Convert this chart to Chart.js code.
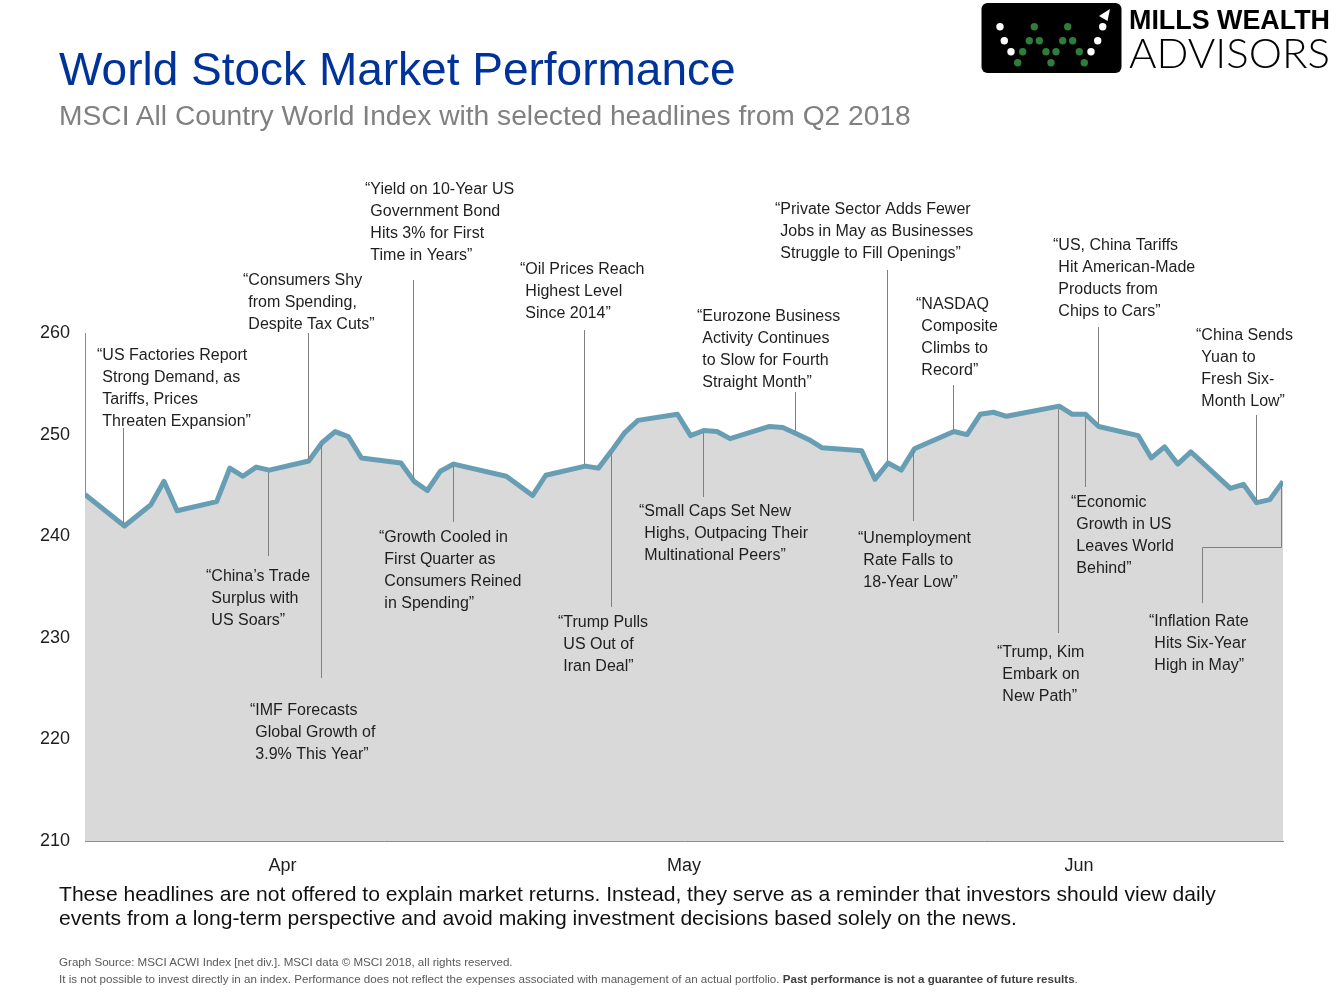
<!DOCTYPE html>
<html>
<head>
<meta charset="utf-8">
<title>World Stock Market Performance</title>
<script src="https://cdn.jsdelivr.net/npm/chart.js@4.4.1/dist/chart.umd.min.js"></script>
<style>
  html, body { margin: 0; padding: 0; background: #fff; }
  body { width: 1344px; height: 998px; position: relative; overflow: hidden; font-family: "Liberation Sans", Arial, sans-serif; }
  #chartWrap { position: absolute; left: 0; top: 0; width: 1344px; height: 998px; }
  .title { position: absolute; left: 59px; top: 46px; font-size: 46px; line-height: 46px; color: #003399; white-space: nowrap; }
  .subtitle { position: absolute; left: 59px; top: 101px; font-size: 28.2px; line-height: 28px; color: #808080; white-space: nowrap; }
  .note { position: absolute; left: 59px; top: 882px; font-size: 21.1px; line-height: 24px; color: #111; white-space: nowrap; }
  .fine { position: absolute; left: 59px; top: 952.5px; font-family: "Liberation Sans Narrow", "Arial Narrow", sans-serif; font-size: 11.6px; line-height: 17px; color: #595959; white-space: nowrap; }
  .fine b { color: #404040; }
  #logo { position: absolute; left: 970px; top: 0; }
</style>
</head>
<body>
<div id="chartWrap"><canvas id="canvasOne" width="1344" height="998"></canvas></div>

<div class="title">World Stock Market Performance</div>
<div class="subtitle">MSCI All Country World Index with selected headlines from Q2 2018</div>
<div class="note">These headlines are not offered to explain market returns. Instead, they serve as a reminder that investors should view daily<br>events from a long-term perspective and avoid making investment decisions based solely on the news.</div>
<div class="fine">Graph Source: MSCI ACWI Index [net div.]. MSCI data © MSCI 2018, all rights reserved.<br>It is not possible to invest directly in an index. Performance does not reflect the expenses associated with management of an actual portfolio. <b>Past performance is not a guarantee of future results</b>.</div>

<svg id="logo" width="374" height="80" viewBox="970 0 374 80">
  <rect x="981.5" y="3" width="140" height="70" rx="6" fill="#000"/>
  <g fill="#fff">
    <circle cx="1000" cy="26.7" r="3.7"/><circle cx="1004.3" cy="40.7" r="3.7"/><circle cx="1011" cy="51.7" r="3.7"/>
    <circle cx="1091" cy="51.7" r="3.7"/><circle cx="1097.7" cy="40.7" r="3.7"/><circle cx="1102.7" cy="26.7" r="3.7"/>
    <polygon points="1099,16 1110,9 1107.5,21"/>
  </g>
  <g fill="#2e7d3a">
    <circle cx="1017.7" cy="62.7" r="3.7"/><circle cx="1022.7" cy="51.7" r="3.7"/><circle cx="1029.3" cy="40.7" r="3.7"/>
    <circle cx="1034.3" cy="26.7" r="3.7"/><circle cx="1039.3" cy="40.7" r="3.7"/><circle cx="1046" cy="51.7" r="3.7"/>
    <circle cx="1051" cy="62.7" r="3.7"/><circle cx="1056" cy="51.7" r="3.7"/><circle cx="1062.7" cy="40.7" r="3.7"/>
    <circle cx="1067.7" cy="26.7" r="3.7"/><circle cx="1072.7" cy="40.7" r="3.7"/><circle cx="1079.3" cy="51.7" r="3.7"/>
    <circle cx="1084.3" cy="62.7" r="3.7"/>
  </g>
  <text x="1129" y="28.5" font-family="Liberation Sans, Arial, sans-serif" font-weight="bold" font-size="28" textLength="201" lengthAdjust="spacingAndGlyphs" fill="#000">MILLS WEALTH</text>
  <text x="1129" y="68" font-family="Lato, Roboto, sans-serif" font-weight="300" font-size="42" textLength="201" lengthAdjust="spacingAndGlyphs" fill="#000">ADVISORS</text>
</svg>

<script>
// MSCI ACWI daily levels, Q2 2018
const dates = [
  "2018-03-30", "2018-04-02", "2018-04-04", "2018-04-05", "2018-04-06",
  "2018-04-09", "2018-04-10", "2018-04-11", "2018-04-12", "2018-04-13",
  "2018-04-16", "2018-04-17", "2018-04-18", "2018-04-19", "2018-04-20",
  "2018-04-23", "2018-04-24", "2018-04-25", "2018-04-26", "2018-04-27",
  "2018-05-01", "2018-05-03", "2018-05-04",
  "2018-05-07", "2018-05-08", "2018-05-09", "2018-05-10", "2018-05-11",
  "2018-05-14", "2018-05-15", "2018-05-16", "2018-05-17", "2018-05-18",
  "2018-05-21", "2018-05-22", "2018-05-23", "2018-05-24", "2018-05-25",
  "2018-05-28", "2018-05-29", "2018-05-30", "2018-05-31", "2018-06-01",
  "2018-06-04", "2018-06-05", "2018-06-06", "2018-06-07", "2018-06-08",
  "2018-06-12", "2018-06-13", "2018-06-14", "2018-06-15",
  "2018-06-18", "2018-06-19", "2018-06-20", "2018-06-21", "2018-06-22",
  "2018-06-25", "2018-06-26", "2018-06-27", "2018-06-28", "2018-06-29"
];
const msciValues = [
  244.1, 241.0, 243.1, 245.4, 242.5,
  243.4, 246.7, 245.9, 246.8, 246.5,
  247.4, 249.2, 250.3, 249.8, 247.7,
  247.2, 245.4, 244.5, 246.4, 247.1,
  245.9, 244.0, 246.0,
  246.9, 246.7, 248.4, 250.2, 251.4,
  252.0, 249.9, 250.4, 250.3, 249.6,
  250.8, 250.7, 250.1, 249.5, 248.7,
  248.4, 245.6, 247.2, 246.5, 248.6,
  250.3, 250.0, 252.0, 252.2, 251.8,
  252.8, 252.0, 252.0, 250.8,
  249.9, 247.7, 248.8, 247.1, 248.3,
  244.7, 245.1, 243.3, 243.6, 245.4
];

// month labels on the x axis
const monthLabels = ["Apr", "May", "Jun"];
const monthTickDays = [15, 45.5, 75.5]; // where the labels sit, days after 30 Mar

// y axis
const yTicks = [210, 220, 230, 240, 250, 260];

// headlines and the day they are attached to
const headlineDates = [
  "2018-04-02", "2018-04-16", "2018-04-13", "2018-04-17", "2018-04-24", "2018-04-27",
  "2018-05-07", "2018-05-09", "2018-05-16", "2018-05-23", "2018-05-30", "2018-06-01",
  "2018-06-04", "2018-06-12", "2018-06-14", "2018-06-15", "2018-06-27", "2018-06-29"
];
const headlineText = [
  ["\u201CUS Factories Report", "Strong Demand, as", "Tariffs, Prices", "Threaten Expansion\u201D"],
  ["\u201CConsumers Shy", "from Spending,", "Despite Tax Cuts\u201D"],
  ["\u201CChina\u2019s Trade", "Surplus with", "US Soars\u201D"],
  ["\u201CIMF Forecasts", "Global Growth of", "3.9% This Year\u201D"],
  ["\u201CYield on 10-Year US", "Government Bond", "Hits 3% for First", "Time in Years\u201D"],
  ["\u201CGrowth Cooled in", "First Quarter as", "Consumers Reined", "in Spending\u201D"],
  ["\u201COil Prices Reach", "Highest Level", "Since 2014\u201D"],
  ["\u201CTrump Pulls", "US Out of", "Iran Deal\u201D"],
  ["\u201CSmall Caps Set New", "Highs, Outpacing Their", "Multinational Peers\u201D"],
  ["\u201CEurozone Business", "Activity Continues", "to Slow for Fourth", "Straight Month\u201D"],
  ["\u201CPrivate Sector Adds Fewer", "Jobs in May as Businesses", "Struggle to Fill Openings\u201D"],
  ["\u201CUnemployment", "Rate Falls to", "18-Year Low\u201D"],
  ["\u201CNASDAQ", "Composite", "Climbs to", "Record\u201D"],
  ["\u201CTrump, Kim", "Embark on", "New Path\u201D"],
  ["\u201CEconomic", "Growth in US", "Leaves World", "Behind\u201D"],
  ["\u201CUS, China Tariffs", "Hit American-Made", "Products from", "Chips to Cars\u201D"],
  ["\u201CChina Sends", "Yuan to", "Fresh Six-", "Month Low\u201D"],
  ["\u201CInflation Rate", "Hits Six-Year", "High in May\u201D"]
];

// where each headline's text block sits on the page (px): left, first line middle, end of leader line
const headlineLayout = [
  { tx: 97, ty: 356, lead: 428 },
  { tx: 243, ty: 281, lead: 333 },
  { tx: 206, ty: 577, lead: 556 },
  { tx: 250, ty: 711, lead: 678 },
  { tx: 365, ty: 190, lead: 280 },
  { tx: 379, ty: 538, lead: 522 },
  { tx: 520, ty: 270, lead: 330 },
  { tx: 558, ty: 623, lead: 607 },
  { tx: 639, ty: 512, lead: 497 },
  { tx: 697, ty: 317, lead: 392 },
  { tx: 775, ty: 210, lead: 270 },
  { tx: 858, ty: 539, lead: 521 },
  { tx: 916, ty: 305, lead: 385 },
  { tx: 997, ty: 653, lead: 633 },
  { tx: 1071, ty: 503, lead: 487 },
  { tx: 1053, ty: 246, lead: 327 },
  { tx: 1196, ty: 336, lead: 415 },
  { tx: 1149, ty: 622, lead: 603, elbowX: 1202, elbowY: 547 }
];

const startDay = Date.UTC(2018, 2, 30);
function dayOf(s) {
  const p = s.split("-").map(Number);
  return (Date.UTC(p[0], p[1] - 1, p[2]) - startDay) / 86400000;
}

const points = dates.map((d, i) => ({ x: dayOf(d), y: msciValues[i] }));

// leader lines + headline text
const headlinePlugin = {
  id: "headlines",
  afterDatasetsDraw(chart) {
    const { ctx } = chart;
    const x = chart.scales.x;
    const y = chart.scales.y;
    ctx.save();
    ctx.font = '16px "Liberation Sans", Arial, sans-serif';
    ctx.textBaseline = "middle";
    ctx.lineWidth = 1;
    ctx.strokeStyle = "#808080";
    const indent = ctx.measureText("\u201C").width;
    headlineText.forEach((lines, i) => {
      const idx = dates.indexOf(headlineDates[i]);
      const lay = headlineLayout[i];
      const px = Math.round(x.getPixelForValue(dayOf(headlineDates[i]))) - 0.5;
      const py = y.getPixelForValue(msciValues[idx]);
      ctx.beginPath();
      if (lay.elbowX) {
        ctx.moveTo(px - 1, py + 2);
        ctx.lineTo(px - 1, lay.elbowY + 0.5);
        ctx.lineTo(lay.elbowX + 0.5, lay.elbowY + 0.5);
        ctx.lineTo(lay.elbowX + 0.5, lay.lead);
      } else if (lay.lead < py) {
        ctx.moveTo(px, lay.lead);
        ctx.lineTo(px, py - 2);
      } else {
        ctx.moveTo(px, py + 2);
        ctx.lineTo(px, lay.lead);
      }
      ctx.stroke();
      ctx.fillStyle = "#1e1e1e";
      lines.forEach((t, j) => {
        ctx.fillText(t, lay.tx + (j ? indent : 0), lay.ty + j * 22);
      });
    });
    ctx.restore();
  }
};

const canvas = document.getElementById("canvasOne");

new Chart(canvas, {
  type: "line",
  data: {
    datasets: [
      {
        label: "MSCI ACWI",
        data: points,
        borderColor: "#689eb4",
        borderWidth: 5,
        borderJoinStyle: "round",
        backgroundColor: "#d9d9d9",
        fill: "start",
        pointRadius: 0,
        tension: 0,
      },
    ],
  },
  options: {
    responsive: false,
    animation: false,
    layout: { padding: { top: 333, right: 61, bottom: 112, left: 0 } },
    plugins: {
      legend: { display: false },
      tooltip: { enabled: false },
    },
    scales: {
      x: {
        type: "linear",
        min: 0,
        max: 91,
        grid: { display: false },
        border: { display: true, color: "#8c8c8c", width: 1 },
        afterBuildTicks: (scale) => {
          scale.ticks = monthTickDays.map((v) => ({ value: v }));
        },
        afterFit: (scale) => { scale.height = 45; },
        ticks: {
          autoSkip: false,
          maxRotation: 0,
          padding: 6,
          color: "#1e1e1e",
          font: { family: '"Liberation Sans", Arial, sans-serif', size: 18 },
          callback: (v, i) => monthLabels[i],
        },
      },
      y: {
        min: 210,
        max: 260,
        grid: { display: false },
        border: { display: true, color: "#8c8c8c", width: 1 },
        afterBuildTicks: (scale) => {
          scale.ticks = yTicks.map((v) => ({ value: v }));
        },
        afterFit: (scale) => { scale.width = 85; },
        ticks: {
          padding: 7,
          color: "#1e1e1e",
          font: { family: '"Liberation Sans", Arial, sans-serif', size: 18 },
        },
      },
    },
  },
  plugins: [headlinePlugin],
});
</script>
</body>
</html>
